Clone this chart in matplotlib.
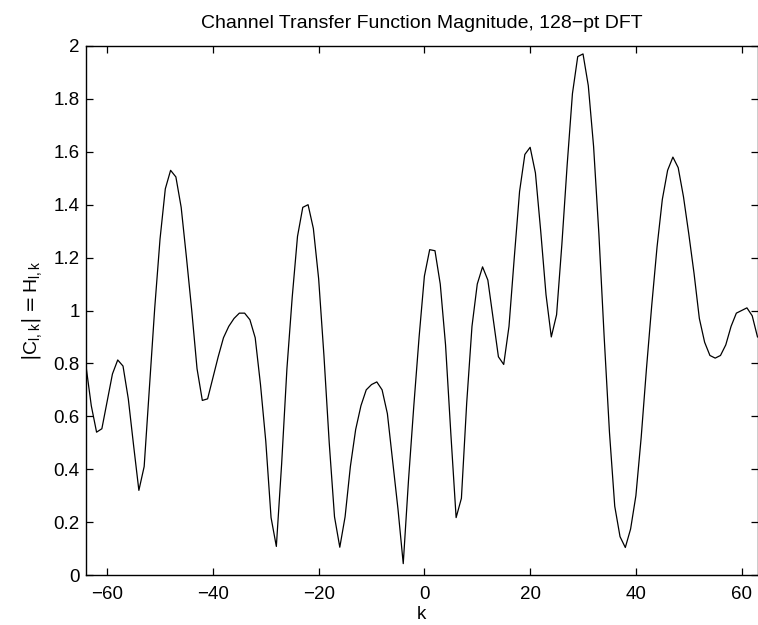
import numpy as np
import matplotlib.pyplot as plt

plt.rcParams['font.family'] = ['Liberation Sans', 'DejaVu Sans']

# DFT bin index and channel magnitude |H| per bin
k = np.arange(-64, 64)
mag = [
    0.79, 0.64, 0.54, 0.553, 0.657, 0.76, 0.813, 0.79, 0.666, 0.49,   # -64..-55
    0.32, 0.41, 0.71, 1.01, 1.27, 1.46, 1.53, 1.505, 1.39, 1.20,       # -54..-45
    1.00, 0.78, 0.66, 0.666, 0.745, 0.825, 0.897, 0.94, 0.97, 0.99,    # -44..-35
    0.99, 0.965, 0.897, 0.72, 0.506, 0.217, 0.108, 0.42, 0.78, 1.05,   # -34..-25
    1.28, 1.39, 1.40, 1.31, 1.12, 0.83, 0.50, 0.22, 0.105, 0.22,       # -24..-15
    0.41, 0.55, 0.64, 0.70, 0.72, 0.73, 0.70, 0.61, 0.43, 0.25,        # -14..-5
    0.043, 0.36, 0.64, 0.90, 1.13, 1.23, 1.226, 1.10, 0.87, 0.535,     # -4..5
    0.217, 0.29, 0.65, 0.94, 1.10, 1.165, 1.115, 0.97, 0.825, 0.796,   # 6..15
    0.94, 1.20, 1.45, 1.59, 1.617, 1.52, 1.30, 1.06, 0.90, 0.984,      # 16..25
    1.25, 1.55, 1.82, 1.96, 1.97, 1.85, 1.62, 1.29, 0.90, 0.54,        # 26..35
    0.26, 0.145, 0.104, 0.174, 0.30, 0.52, 0.78, 1.02, 1.24, 1.42,     # 36..45
    1.53, 1.58, 1.54, 1.43, 1.29, 1.14, 0.97, 0.88, 0.83, 0.82,        # 46..55
    0.83, 0.87, 0.94, 0.99, 1.00, 1.01, 0.98, 0.90,                    # 56..63
]

xticks = [-60, -40, -20, 0, 20, 40, 60]
xtick_labels = ['\u221260', '\u221240', '\u221220', '0', '20', '40', '60']
yticks = [0, 0.2, 0.4, 0.6, 0.8, 1, 1.2, 1.4, 1.6, 1.8, 2]
ytick_labels = ['0', '0.2', '0.4', '0.6', '0.8', '1', '1.2', '1.4', '1.6', '1.8', '2']

fig = plt.figure(figsize=(7.58, 6.25), dpi=100)
ax = fig.add_axes([86 / 758, 50 / 625, 671.5 / 758, 529 / 625])

ax.plot(k, mag, color='black', linewidth=0.9)

ax.set_xlim(-64, 63)
ax.set_ylim(0, 2)
ax.set_xticks(xticks)
ax.set_xticklabels(xtick_labels)
ax.set_yticks(yticks)
ax.set_yticklabels(ytick_labels)

# boxed axes with inward ticks on every side
ax.tick_params(direction='in', top=True, right=True, length=5, width=0.9,
               labelsize=13.5)
ax.tick_params(axis='x', pad=8)
ax.tick_params(axis='y', pad=4.5)
for s in ax.spines.values():
    s.set_linewidth(1.0)

ax.set_title('Channel Transfer Function Magnitude, 128\u2212pt DFT',
             fontsize=14, pad=13)
ax.set_xlabel('k', fontsize=13.5, labelpad=2)
ax.set_ylabel(r'$|\mathregular{C_{l,k}}| = \mathregular{H_{l,k}}$',
              fontsize=14, labelpad=7)

fig.savefig('out.png', dpi=100)
